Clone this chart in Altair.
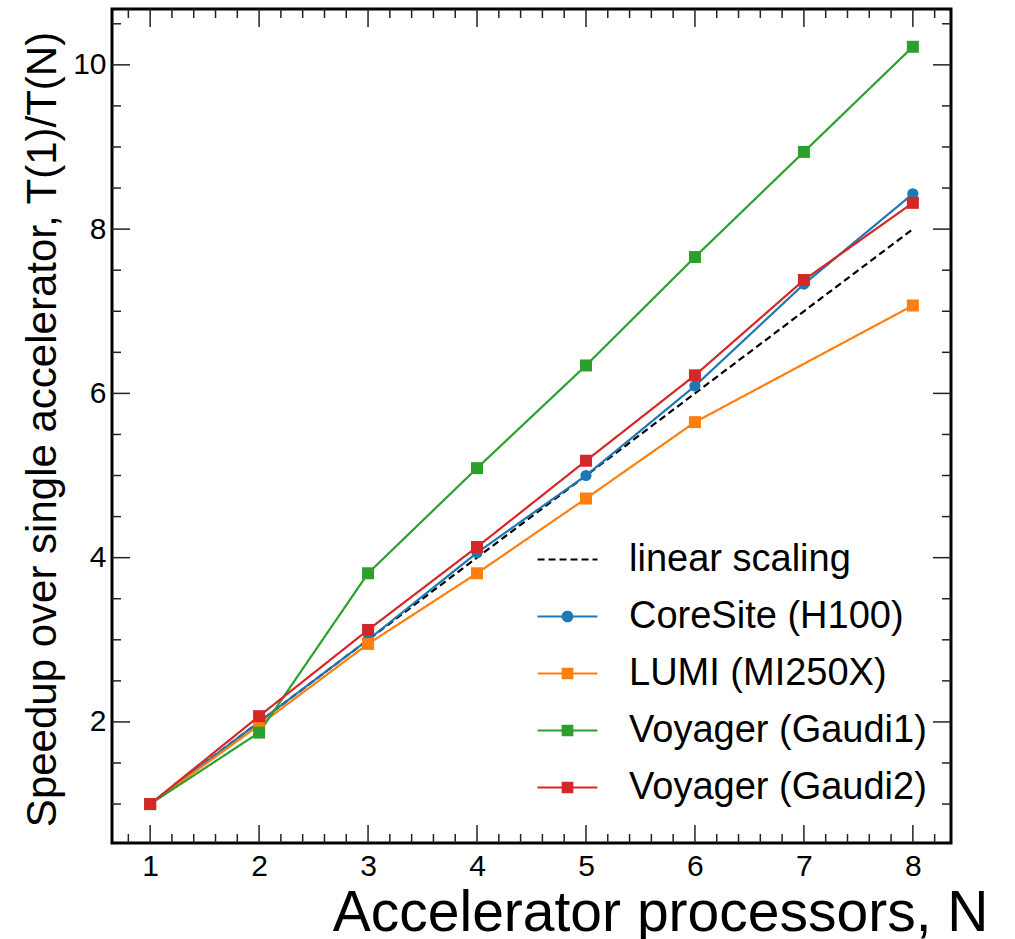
import altair as alt
import pandas as pd

# ---------------- data ----------------
N = [1, 2, 3, 4, 5, 6, 7, 8]
linear_scaling = [1, 2, 3, 4, 5, 6, 7, 8]
coresite_h100 = [1.0, 2.0, 3.0, 4.06, 5.0, 6.09, 7.33, 8.43]
lumi_mi250x = [1.0, 1.96, 2.95, 3.81, 4.72, 5.65, None, 7.07]
voyager_gaudi1 = [1.0, 1.87, 3.81, 5.09, 6.34, 7.66, 8.94, 10.22]
voyager_gaudi2 = [1.0, 2.07, 3.12, 4.13, 5.18, 6.22, 7.38, 8.32]

series_names = ["linear scaling", "CoreSite (H100)", "LUMI (MI250X)",
                "Voyager (Gaudi1)", "Voyager (Gaudi2)"]
series_values = [linear_scaling, coresite_h100, lumi_mi250x, voyager_gaudi1, voyager_gaudi2]
series_colors = ["#000000", "#1f77b4", "#ff7f0e", "#2ca02c", "#d62728"]
series_dash = [[7, 4], [1, 0], [1, 0], [1, 0], [1, 0]]

x_major = [1, 2, 3, 4, 5, 6, 7, 8]
x_minor = [0.8] + [round(m + f, 1) for m in range(1, 9) for f in (0.2, 0.4, 0.6, 0.8) if m + f < 8.35]
y_major = [2, 4, 6, 8, 10]
y_minor = [1, 1.5, 2.5, 3, 3.5, 4.5, 5, 5.5, 6.5, 7, 7.5, 8.5, 9, 9.5, 10.5]

FONT = "Liberation Sans"
W, H = 839, 834

rows = []
for name, vals in zip(series_names, series_values):
    for n, v in zip(N, vals):
        if v is not None:
            rows.append({"N": n, "S": v, "series": name})
df = pd.DataFrame(rows)

xscale = alt.Scale(domain=[0.65, 8.35], nice=False, zero=False)
yscale = alt.Scale(domain=[0.526, 10.68], nice=False, zero=False)
color_scale = alt.Scale(domain=series_names, range=series_colors)
dash_scale = alt.Scale(domain=series_names, range=series_dash)

line_path = "M-1.07,0H1.07"
circle_path = line_path + "M0.17,0A0.17,0.17 0 1,1 -0.17,0A0.17,0.17 0 1,1 0.17,0Z"
square_path = line_path + "M-0.17,-0.17H0.17V0.17H-0.17Z"
legend_paths = [line_path, circle_path, square_path, square_path, square_path]

X_LABEL_SIZE = 30
Y_LABEL_SIZE = 30

x_axis = alt.Axis(
    values=x_major, title="Accelerator processors, N", grid=False, domain=False,
    ticks=False, tickSize=0, labelPadding=8, labelFontSize=X_LABEL_SIZE, labelFont=FONT,
    labelColor="black", titleFont=FONT, titleFontSize=57, titleFontWeight="normal",
    titleColor="black", titleAlign="right", titleX=876, titleY=87,
    titleBaseline="alphabetic")
y_axis = alt.Axis(
    values=y_major, title="Speedup over single accelerator, T(1)/T(N)", grid=False,
    domain=False, ticks=False, tickSize=0, labelPadding=6, labelFontSize=Y_LABEL_SIZE,
    labelFont=FONT, labelColor="black", titleFont=FONT, titleFontSize=42,
    titleFontWeight="normal", titleColor="black", titleAngle=270, titleAlign="center",
    titleX=-57, titleY=420, titleBaseline="alphabetic")


def X(field):
    return alt.X(field, scale=xscale, axis=x_axis)


def Y(field):
    return alt.Y(field, scale=yscale, axis=y_axis)


lines = alt.Chart(df).mark_line(strokeWidth=2.2).encode(
    x=X("N:Q"), y=Y("S:Q"),
    color=alt.Color("series:N", scale=color_scale, legend=None),
    strokeDash=alt.StrokeDash("series:N", scale=dash_scale, legend=None),
    order="N:Q",
)

circles = alt.Chart(df[df["series"] == "CoreSite (H100)"]).mark_point(
    filled=True, shape="circle", size=125, opacity=1).encode(
    x=X("N:Q"), y=Y("S:Q"),
    color=alt.Color("series:N", scale=color_scale, legend=None),
)
squares = alt.Chart(df[df["series"].isin(series_names[2:])]).mark_point(
    filled=True, shape="square", size=144, opacity=1).encode(
    x=X("N:Q"), y=Y("S:Q"),
    color=alt.Color("series:N", scale=color_scale, legend=None),
)

leg = alt.Legend(title=None, orient="none", legendX=426, legendY=521, symbolSize=3136,
                 symbolOpacity=1, symbolStrokeWidth=2.2, labelFontSize=38, labelFont=FONT,
                 labelColor="black", labelOffset=32, labelLimit=0, rowPadding=8, padding=0)

legend_layer = alt.Chart(df).mark_point(filled=True, opacity=0, strokeWidth=2.2).encode(
    x=X("N:Q"), y=Y("S:Q"),
    color=alt.Color("series:N", scale=color_scale, legend=leg),
    stroke=alt.Stroke("series:N", scale=color_scale, legend=leg),
    shape=alt.Shape("series:N", scale=alt.Scale(domain=series_names, range=legend_paths), legend=leg),
    strokeDash=alt.StrokeDash("series:N", scale=dash_scale, legend=leg),
)

TICK_COLOR = "#222222"


def xticks(vals, length):
    d = pd.DataFrame({"N": vals})
    bottom = alt.Chart(d).mark_rule(color=TICK_COLOR, strokeWidth=1.5).encode(
        x=X("N:Q"), y=alt.value(H), y2=alt.value(H - length))
    top = alt.Chart(d).mark_rule(color=TICK_COLOR, strokeWidth=1.5).encode(
        x=X("N:Q"), y=alt.value(0), y2=alt.value(length))
    return [bottom, top]


def yticks(vals, length):
    d = pd.DataFrame({"S": vals})
    left = alt.Chart(d).mark_rule(color=TICK_COLOR, strokeWidth=1.5).encode(
        y=Y("S:Q"), x=alt.value(0), x2=alt.value(length))
    right = alt.Chart(d).mark_rule(color=TICK_COLOR, strokeWidth=1.5).encode(
        y=Y("S:Q"), x=alt.value(W), x2=alt.value(W - length))
    return [left, right]


tick_layers = xticks(x_major, 18) + xticks(x_minor, 9) + yticks(y_major, 18) + yticks(y_minor, 9)

chart = alt.layer(lines, *tick_layers, circles, squares, legend_layer).resolve_scale(
    color="independent", stroke="independent", shape="independent", strokeDash="independent"
).properties(
    width=W, height=H,
    autosize=alt.AutoSizeParams(type="none"),
    padding={"left": 112, "top": 9, "right": 64, "bottom": 96},
    background="white",
).configure_view(stroke="black", strokeWidth=3
).configure_axisX(labelFontSize=X_LABEL_SIZE, labelFont=FONT
).configure_axisY(labelFontSize=Y_LABEL_SIZE, labelFont=FONT)

chart.save("out.html", embed_options={"renderer": "svg", "actions": False})
